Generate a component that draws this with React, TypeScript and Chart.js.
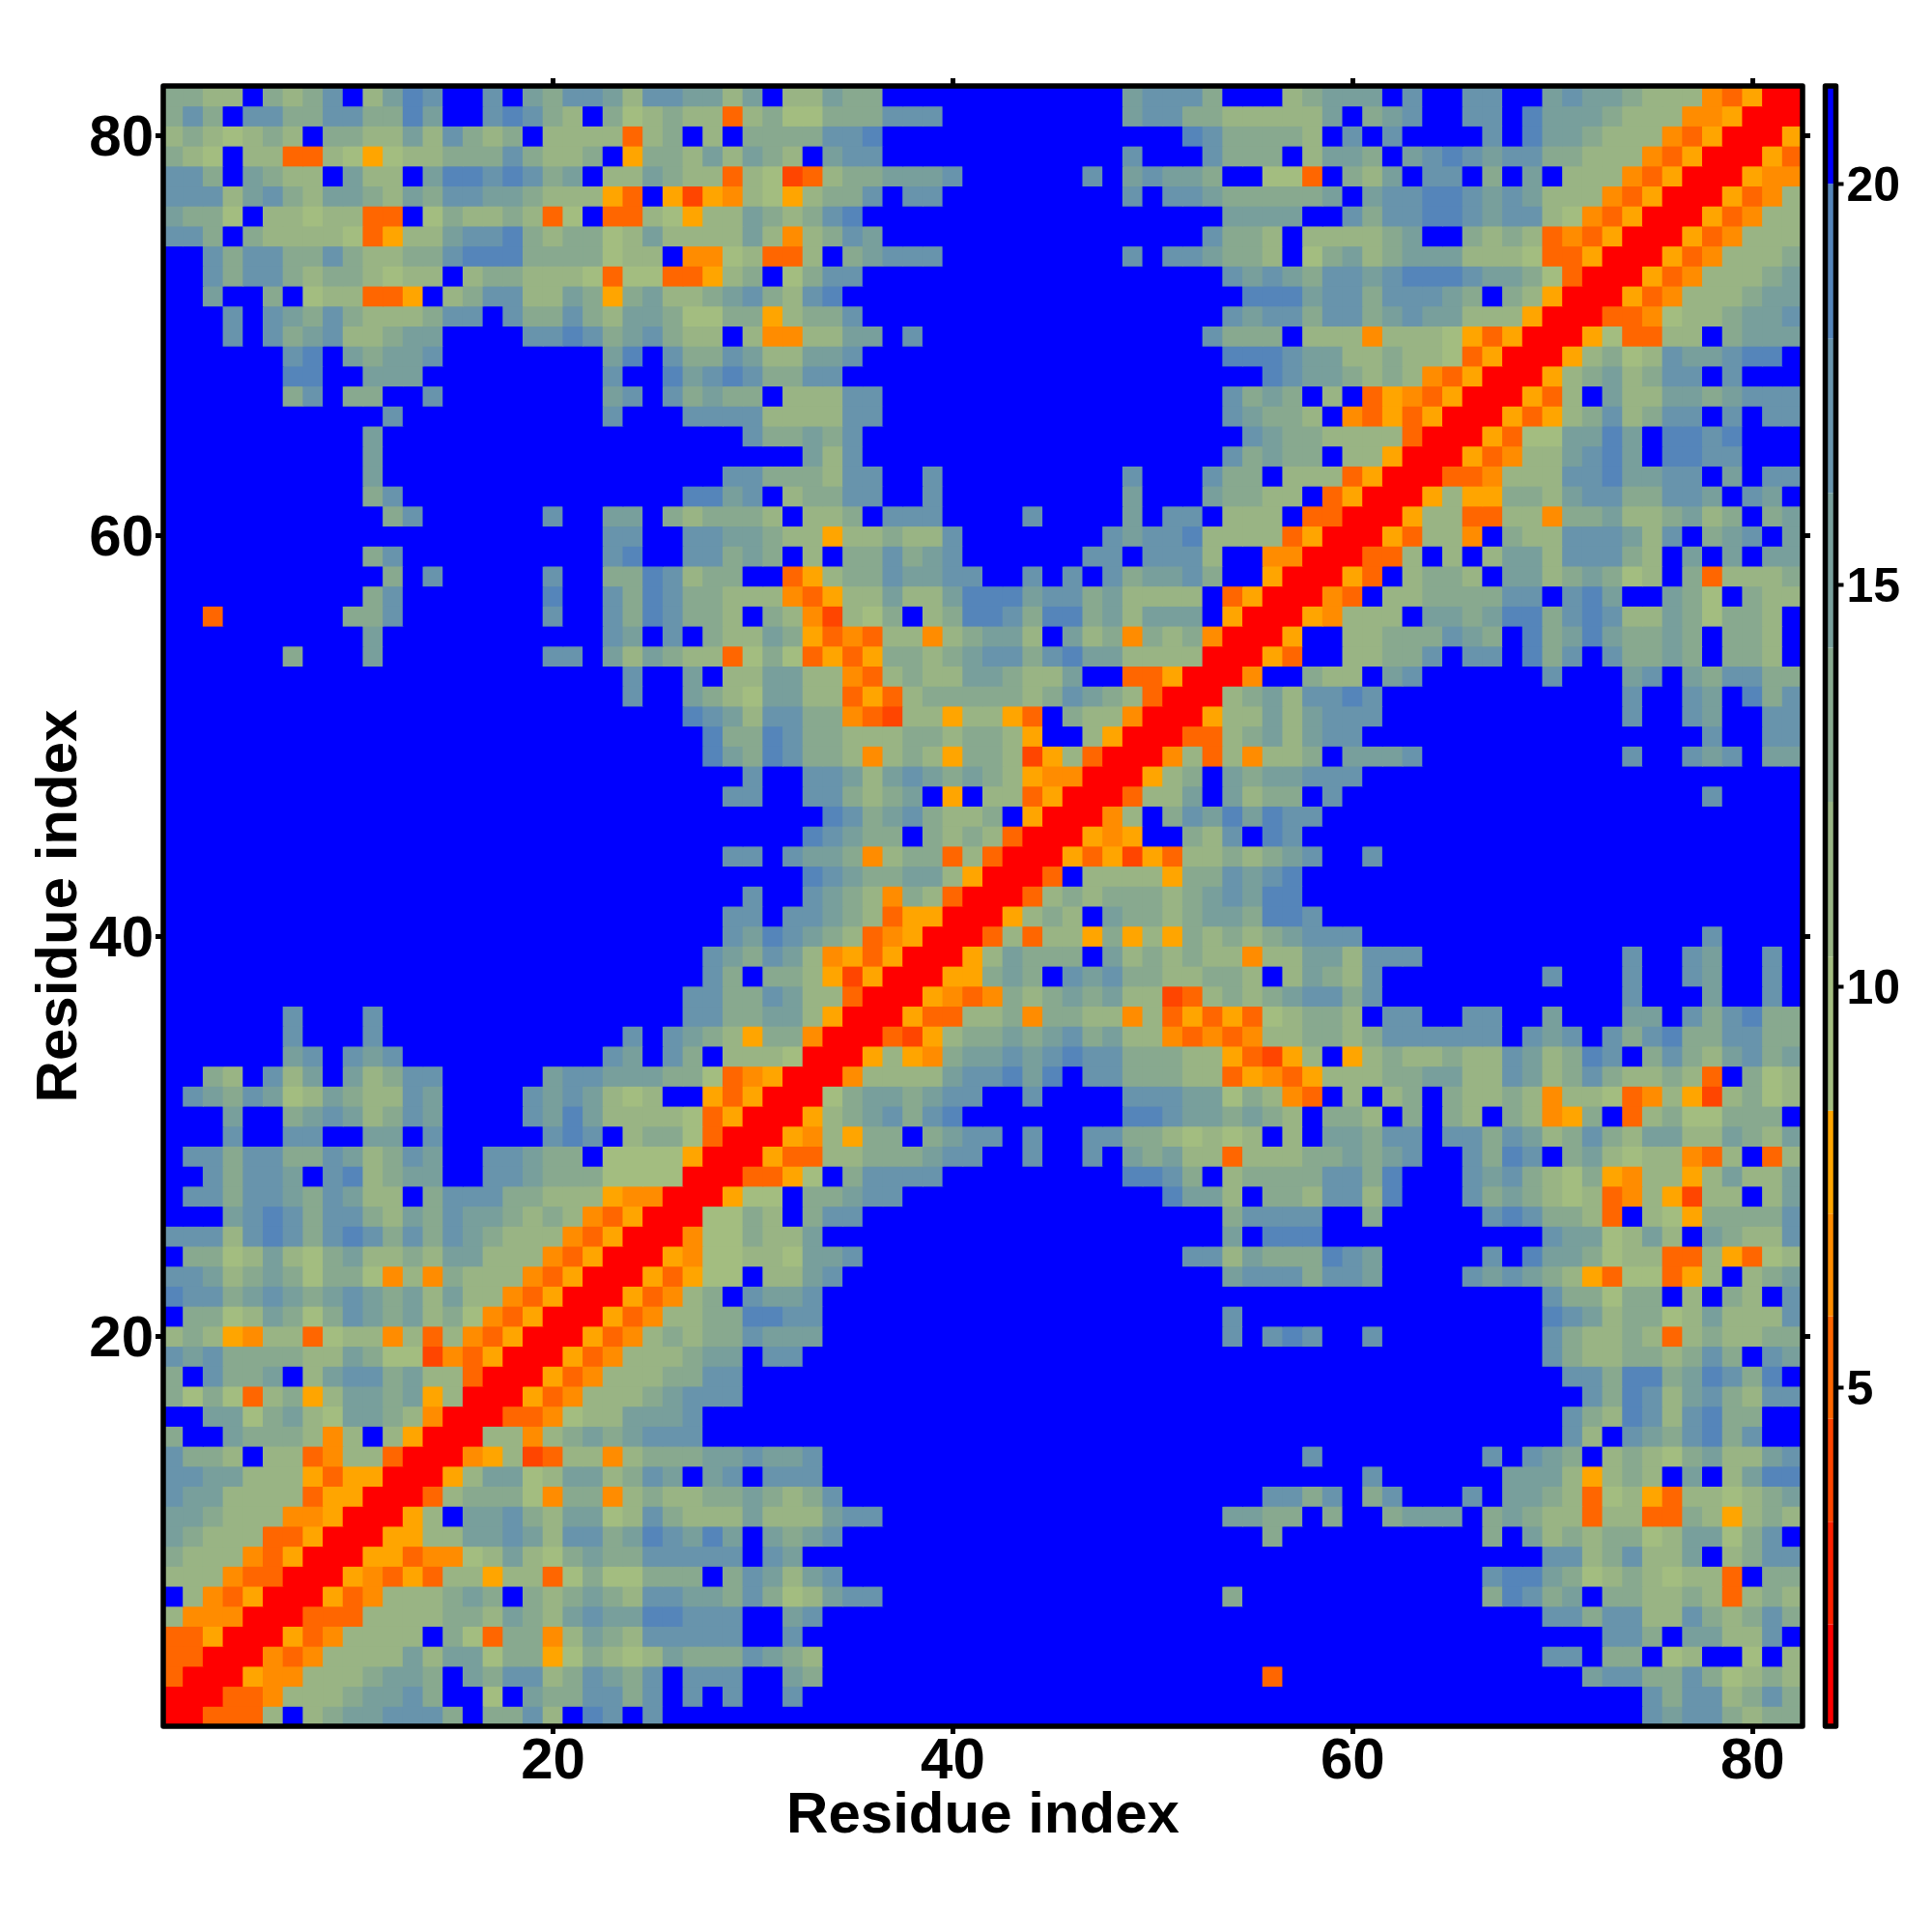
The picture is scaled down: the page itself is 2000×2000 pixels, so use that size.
import React, { useEffect, useRef } from "react";
import { Chart, registerables } from "chart.js";

Chart.register(...registerables);

const B10 = "bbbbbbbbbb";
// Lower triangle of the symmetric distance map: entry i is residue y = i + 2, characters are x = 1 .. y - 1.
const rowCodes: string[] = [
  "r",
  "or",
  "oor",
  "ooar",
  "2mmmr",
  "b2moar",
  "222moor",
  "3222moar",
  "43222ooar",
  "443222mmar",
  "5442222oaar",
  "5544222aoaar",
  "5332b22om22or",
  "3bb43332m2b2ar",
  "bb44134214432mr",
  "3131o23a24" + "434a2r",
  "3b5334b245" + "53422or",
  "5453333224" + "311xmoar",
  "232am22o12" + "2m2o2moar",
  "b331243135" + "434231moar",
  "6553454345" + "4342422moa" + "r",
  "5542343133" + "1m2m3222mo" + "ar",
  "b331242134" + "223244222m" + "oar",
  "5552565356" + "5353543222" + "moar",
  "bbb4565355" + "3243544323" + "2moar",
  "b553554354" + "22b3555332" + "22ammr",
  "bb53554b56" + "2344bb5543" + "331111r",
  "b553553354" + "2354bb5543" + "3b1111ar",
  "bbb5bb55bb" + "44b5bbbbb5" + "65b2331or",
  "bbb4bb3454" + "2354bbbb54" + "6422221oar",
  "b543541243" + "2254bbbb54" + "54212bbaoa" + "r",
  "bb32b524b4" + "2355bbbbb4" + "55444331om" + "ar",
  "bbbbbb45b5" + "45bbbbbbbb" + "bb54b53b22" + "21r",
  "bbbbbb5bbb" + "5bbbbbbbbb" + "bbb5b5432a" + "33mr",
  "bbbbbb5bbb" + "5bbbbbbbbb" + "bbbbbb5533" + "442ar",
  B10 + B10 + "bbbbbb5533" + "5422or",
  B10 + B10 + "bbbbbbb53b" + "332axar",
  B10 + B10 + "bbbbbbb543" + "542maoar",
  B10 + B10 + "bbbbbbbb54" + "65432omar",
  B10 + B10 + "bbbbbbbb55" + "b55432oaar",
  B10 + B10 + "bbbbbbbbb5" + "bb5432m32o" + "r",
  B10 + B10 + B10 + "bb65433442" + "ar",
  B10 + B10 + "bbbbbbbb55" + "b5443m233o" + "2or",
  B10 + B10 + B10 + "bb65433b32" + "32or",
  B10 + B10 + B10 + "bbb6534532" + "23bar",
  B10 + B10 + "bbbbbbbb55" + "bb553234ba" + "b22oar",
  B10 + B10 + "bbbbbbbbb5" + "bb55424543" + "432ammr",
  B10 + B10 + "bbbbbbb643" + "65332m232a" + "332xa2or",
  B10 + B10 + "bbbbbbb633" + "6533222332" + "332abb2ar",
  B10 + B10 + "bbbbbb6542" + "5533mox22a" + "22aob322mr",
  B10 + B10 + "bbb5bb4321" + "4422oao233" + "333235432o" + "r",
  B10 + B10 + "bbb5bb4b22" + "4422mo2322" + "443224bboo" + "ar",
  "bbbbbb3bbb" + "4bbbbbbbb5" + "5b424322o1" + "31oaoa3323" + "4553564422" + "22r",
  B10 + "4bbbbbbbbb" + "bb54b5b322" + "43aomo22m2" + "3442b423m3" + "23mr",
  "bbobbbbbb3" + "35bbbbbbb5" + "bb5365332b" + "32mx213b23" + "6653663424" + "44bar",
  B10 + "35bbbbbbb6" + "bb53653322" + "2moa224224" + "6664553422" + "22boar",
  B10 + "b3b5bbbbb5" + "bb3365233b" + "boa2335445" + "5bb5b5b534" + "453bbar",
  B10 + "35bbbbbbbb" + "bb56bb5534" + "3b2b335345" + "bbbbbb55b5" + "552bbmmr",
  B10 + B10 + "bb55bb5544" + "322a223225" + "bbbbbbb545" + "562222oar",
  B10 + "b35bbbbbb5" + "bb44b32333" + "2b223b555b" + "bbb5bbbb4b" + "55b222boor",
  B10 + "35bbbbbbbb" + "bbbbbb6645" + "b23355bb5b" + "bbbbbbbb4b" + "bb43322boa" + "r",
  B10 + "4bbbbbbbbb" + "bbbbbbbb55" + "333255bb5b" + "bbbbbbbb5b" + "bb533b222o" + "ar",
  B10 + "4bbbbbbbbb" + B10 + "bb425bbbbb" + B10 + "bbb53433b2" + "2ar",
  B10 + "4bbbbbbbbb" + "bbbbbbbbb5" + "33435bbbbb" + B10 + "bbbb543322" + "22or",
  B10 + "b5bbbbbbbb" + "bb5bbb5555" + "222255bbbb" + B10 + "bbb54332bm" + "oaoar",
  "bbbbbb35b3" + "3bb5bbbbbb" + "bb45b53433" + "b22255bbbb" + B10 + "bbb5343b2b" + "oamoar",
  "bbbbbb66bb" + "444bbbbbbb" + "bb5bb64565" + "3355bbbbbb" + B10 + "bbbbb65443" + "232moar",
  "bbbbbb56b4" + "3445bbbbbb" + "bb46b53354" + "22445bbbbb" + B10 + "bbb6665442" + "23221oar",
  "bbb5b53452" + "2344bbbb55" + "65345322b2" + "mm2244b5bb" + B10 + "bb5333b222" + "m2221aoar",
  "bbb5b54353" + "222355b533" + "5324431133" + "a2335bbbbb" + B10 + "bbb5455355" + "34544222ar",
  "bb4bb3b122" + "ooab235522" + "43a3422345" + "3256bbbbbb" + B10 + "bbbb666455" + "355543b32a" + "r",
  "bb53553233" + "2122b23322" + "21o11ooa23" + "b1355bbbbb" + B10 + "bbb5454355" + "4566654431" + "or",
  "bb53553353" + "2233566633" + "33122bmm12" + "oo2b34555b" + "bbbbbbbb5b" + "554332b134" + "234442221o" + "oar",
  "553b322221" + "oa22455632" + "3312422224" + "2m2354bbbb" + B10 + "bb5332b222" + "234bb3232o" + "moar",
  "4331b22122" + "oob132232o" + "1boo21a224" + "32356bbbbb" + B10 + "bbb4444bb5" + "3556654552" + "1moar",
  "5552453244" + "3243554432" + "22aobaxam2" + "1a2335b55b" + "bbbbbbbb5b" + "554333334b" + "4556654542" + "22moar",
  "553b4322b4" + "22b4665653" + "4b224322o2" + "1xo2334445" + "bbbbbb5b45" + "443bb11ob3" + "24b55b3b4b" + "222moar",
  "321b22oo21" + "a122333532" + "23ba332424" + "32b455bbbb" + "bbbbbbbb5b" + "bb5333b244" + "3b45654553" + "3222moar",
  "2321232b33" + "22425323b2" + "222o23b2b3" + "333556bbbb" + B10 + "b6533332b5" + "b5bbbb5b64" + "43222moar",
  "353b553355" + "3364bb5653" + "2b312322o2" + "311333555b" + "bbbbbbbb45" + "533222224b" + "345bb55b64" + "443222mmar",
  "3322b3235b" + "2465bb5b43" + "5542554424" + "b22433bbbb" + "bbbbbbbb45" + "553bbb2344" + "4b5bb55bb4" + "5443222moa" + "r",
];

// Distance (Angstrom) that each code stands for.
const codeKeys = ["r", "x", "o", "m", "a", "1", "2", "3", "4", "5", "6", "b"];
const codeValues = [1.5, 4, 5.2, 6.5, 7.8, 9.4, 11.3, 13.2, 15.2, 17.1, 19, 20.6];

// Colour scale segments.
const colorBreaks = [0.78, 2.05, 3.33, 4.61, 5.89, 7.17, 8.45, 10.37, 12.3, 14.22, 16.15, 18.07, 20, 21.22];
const colorHexes = ["#FF0000", "#FF2000", "#FF4500", "#FF6600", "#FF8C00", "#FFA500", "#A3BD80", "#99B484", "#88A98F", "#789F9C", "#6894AC", "#5585BA", "#0000FF"];

const axisTicks = [20, 40, 60, 80];
const axisTitle = "Residue index";
const RESIDUES = 82;

const colorFor = (v: number) => {
  for (let i = 0; i < colorHexes.length; i++) if (v < colorBreaks[i + 1]) return colorHexes[i];
  return colorHexes[colorHexes.length - 1];
};

const valueAt = (x: number, y: number) => {
  if (x === y) return codeValues[0];
  const hi = Math.max(x, y);
  const lo = Math.min(x, y);
  const row = rowCodes[hi - 2] || "";
  const idx = codeKeys.indexOf(row[lo - 1]);
  return codeValues[idx < 0 ? codeKeys.length - 1 : idx];
};

const FONT = '"Liberation Sans", Arial, sans-serif';

const frame = {
  id: "frame",
  afterDraw(chart: any) {
    const { ctx, chartArea: a } = chart;
    ctx.save();
    ctx.lineWidth = 5.5;
    ctx.lineJoin = "round";
    ctx.strokeStyle = "#000";
    ctx.strokeRect(a.left, a.top, a.right - a.left, a.bottom - a.top);
    ctx.restore();
  },
};

export default function App() {
  const mainRef = useRef<HTMLCanvasElement>(null);
  const barRef = useRef<HTMLCanvasElement>(null);

  useEffect(() => {
    const cells: any[] = [];
    for (let y = 1; y <= RESIDUES; y++) {
      for (let x = 1; x <= RESIDUES; x++) {
        cells.push({ x, y: [y - 0.5, y + 0.5], v: valueAt(x, y) });
      }
    }
    const tickCommon = {
      type: "linear",
      min: 0.5,
      max: 82.5,
      offset: false,
      border: { display: false },
      grid: { offset: false, drawOnChartArea: false, drawTicks: true, tickLength: 8, tickWidth: 5, tickColor: "#000" },
    };
    const tickCb = (v: any) => (axisTicks.includes(v) ? String(v) : "");
    const labelTicks = {
      stepSize: 20,
      includeBounds: false,
      color: "#000",
      maxRotation: 0,
      minRotation: 0,
      autoSkip: false,
      font: { family: FONT, size: 60, weight: "bold" },
      callback: tickCb,
    };
    const noLabelTicks = { display: false, stepSize: 20, includeBounds: false };
    const main = new Chart(mainRef.current!, {
      type: "bar",
      data: {
        datasets: [
          {
            data: cells,
            xAxisID: "x",
            yAxisID: "y",
            barPercentage: 1,
            categoryPercentage: 1,
            borderWidth: 0,
            inflateAmount: 0.5,
            backgroundColor: (c: any) => colorFor(c.raw ? c.raw.v : 21),
          } as any,
        ],
      },
      options: {
        responsive: false,
        animation: false,
        layout: { padding: 0 },
        plugins: { legend: { display: false }, tooltip: { enabled: false } },
        events: [],
        scales: {
          x: {
            ...tickCommon,
            position: "bottom",
            axis: "x",
            ticks: { ...labelTicks, padding: -7 },
            title: { display: true, text: axisTitle, color: "#000", font: { family: FONT, size: 60, weight: "bold" }, padding: { top: 0, bottom: 84 } },
            afterFit: (s: any) => { s.height = 213; },
          },
          y: {
            ...tickCommon,
            position: "left",
            axis: "y",
            ticks: { ...labelTicks, padding: 2, labelOffset: 4 },
            title: { display: true, text: axisTitle, color: "#000", font: { family: FONT, size: 60, weight: "bold" }, padding: { top: 26, bottom: 0 } },
            afterFit: (s: any) => { s.width = 169; },
          },
          x2: {
            ...tickCommon,
            position: "top",
            axis: "x",
            ticks: noLabelTicks,
            afterFit: (s: any) => { s.height = 89; },
          },
          y2: {
            ...tickCommon,
            position: "right",
            axis: "y",
            ticks: noLabelTicks,
            afterFit: (s: any) => { s.width = 134; },
          },
        } as any,
      },
      plugins: [frame],
    });

    const segments = colorHexes.map((_, i) => ({ x: "c", y: [colorBreaks[i], colorBreaks[i + 1]] }));
    const bar = new Chart(barRef.current!, {
      type: "bar",
      data: {
        labels: ["c"],
        datasets: [
          {
            data: segments,
            barPercentage: 1,
            categoryPercentage: 1,
            borderWidth: 0,
            inflateAmount: 0,
            backgroundColor: colorHexes,
          } as any,
        ],
      },
      options: {
        responsive: false,
        animation: false,
        events: [],
        layout: { padding: { left: 19.5, top: 89, bottom: 213, right: 0 } },
        plugins: { legend: { display: false }, tooltip: { enabled: false } },
        scales: {
          x: { display: false },
          y: {
            type: "linear",
            position: "right",
            min: colorBreaks[0],
            max: colorBreaks[colorBreaks.length - 1],
            border: { display: false },
            grid: { drawOnChartArea: false, drawTicks: true, tickLength: 8, tickWidth: 4, tickColor: "#000" },
            ticks: {
              stepSize: 5,
              includeBounds: false,
              padding: 3,
              labelOffset: 4,
              color: "#000",
              font: { family: FONT, size: 50, weight: "bold" },
              callback: (v: any) => (v % 5 === 0 ? String(v) : ""),
            },
            afterFit: (s: any) => { s.width = 99.5; },
          },
        } as any,
      },
      plugins: [frame],
    });
    return () => {
      main.destroy();
      bar.destroy();
    };
  }, []);

  return (
    <div style={{ position: "absolute", left: 0, top: 0, width: 2000, height: 2000, background: "#fff" }}>
      <canvas ref={mainRef} width={2000} height={2000} style={{ position: "absolute", left: 0, top: 0 }} />
      <canvas ref={barRef} width={130} height={2000} style={{ position: "absolute", left: 1870, top: 0 }} />
    </div>
  );
}
